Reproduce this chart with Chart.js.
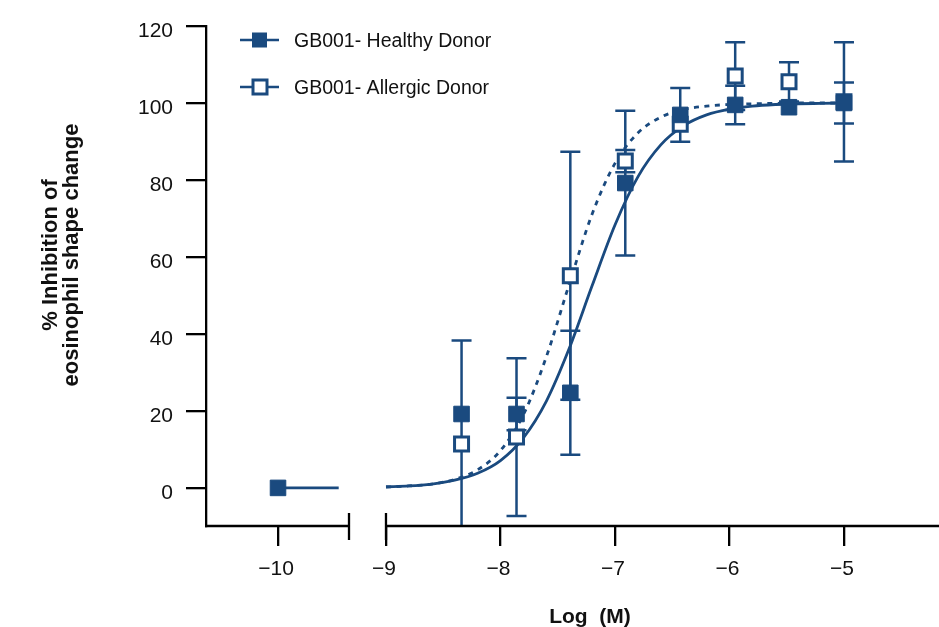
<!DOCTYPE html>
<html>
<head>
<meta charset="utf-8">
<script src="https://cdn.jsdelivr.net/npm/chart.js@4.4.1/dist/chart.umd.min.js"></script>
<style>
  html, body { margin: 0; padding: 0; background: #fff; }
  #chart { display: block; }
</style>
</head>
<body>
<canvas id="chart" width="939" height="627"></canvas>
<script>
// measured points (log M) and % inhibition, mean +/- error
const healthyX = [-10, -8.34, -7.86, -7.39, -6.91, -6.43, -5.95, -5.48, -5.0];
const healthyMean = [0, 19.2, 19.2, 24.7, 79.2, 96.9, 99.5, 98.9, 100.0];
const healthyErr = [0, 0, 4.2, 16.1, 18.8, 7.0, 5.0, 0, 5.3];

const allergicX = [-8.34, -7.86, -7.39, -6.91, -6.43, -5.95, -5.48, -5.0];
const allergicMean = [11.4, 13.2, 55.1, 84.9, 94.5, 107.0, 105.5, 100.3];
const allergicErr = [26.9, 20.5, 32.2, 2.9, 0, 8.8, 5.1, 15.5];

// fitted curves
const fitX = [-9.0, -8.8, -8.6, -8.4, -8.2, -8.0, -7.8, -7.6, -7.4, -7.2, -7.0,
              -6.8, -6.6, -6.4, -6.2, -6.0, -5.8, -5.6, -5.4, -5.2, -5.0];
const healthyFit = [0.3, 0.5, 1.0, 2.0, 3.8, 7.1, 13.0, 22.5, 36.2, 52.5, 68.3,
                    80.8, 89.1, 94.1, 96.9, 98.4, 99.2, 99.6, 99.8, 99.9, 100.0];
const allergicFit = [0.2, 0.5, 1.0, 2.2, 4.7, 9.7, 19.0, 34.0, 52.9, 71.1, 84.3,
                     92.2, 96.3, 98.3, 99.2, 99.6, 99.8, 99.9, 100.0, 100.0, 100.0];
// healthy curve left of the axis break
const baseX = [-10, -9.47];
const baseY = [0, 0];

const xTicks = [-10, -9, -8, -7, -6, -5];
const yTicks = [0, 20, 40, 60, 80, 100, 120];

const NAVY = "#1a4a7f";
const INK = "#111";
const FONT = "'Liberation Sans', Arial, Helvetica, sans-serif";

// axis break between these two values; the part left of it is slid right a bit
const BREAK_FROM = -9.38;
const BREAK_TO = -9;
const LEFT_SHIFT = 0.057;

class BrokenLinearScale extends Chart.LinearScale {
  getPixelForValue(value) {
    const v = value < BREAK_TO - 0.1 ? value + LEFT_SHIFT : value;
    return super.getPixelForValue(v);
  }
}
BrokenLinearScale.id = "brokenLinear";
BrokenLinearScale.defaults = Chart.LinearScale.defaults;
Chart.register(BrokenLinearScale);

const toPoints = (xs, ys) => xs.map((x, i) => ({ x, y: ys[i] }));

// error bars under the markers
const errorBars = {
  id: "errorBars",
  beforeDatasetsDraw(chart) {
    const { ctx, chartArea, scales } = chart;
    const groups = [
      [allergicX, allergicMean, allergicErr],
      [healthyX, healthyMean, healthyErr],
    ];
    ctx.save();
    ctx.beginPath();
    ctx.rect(chartArea.left, chartArea.top, chartArea.right - chartArea.left, chartArea.bottom - chartArea.top);
    ctx.clip();
    ctx.strokeStyle = NAVY;
    ctx.lineWidth = 2.5;
    groups.forEach(([xs, means, errs]) => {
      xs.forEach((x, i) => {
        if (!errs[i]) return;
        const px = scales.x.getPixelForValue(x);
        const top = scales.y.getPixelForValue(means[i] + errs[i]);
        const bot = scales.y.getPixelForValue(means[i] - errs[i]);
        ctx.beginPath();
        ctx.moveTo(px, top);
        ctx.lineTo(px, bot);
        ctx.moveTo(px - 10, top);
        ctx.lineTo(px + 10, top);
        ctx.moveTo(px - 10, bot);
        ctx.lineTo(px + 10, bot);
        ctx.stroke();
      });
    });
    ctx.restore();
  },
};

// broken x axis line, legend and axis titles
const decorations = {
  id: "decorations",
  afterDraw(chart) {
    const { ctx, chartArea, scales } = chart;
    const yAxis = chartArea.bottom;
    const bx1 = scales.x.getPixelForValue(BREAK_FROM);
    const bx2 = scales.x.getPixelForValue(BREAK_TO);
    ctx.save();
    ctx.strokeStyle = "#000";
    ctx.lineWidth = 2.3;
    ctx.beginPath();
    ctx.moveTo(chartArea.left - 1, yAxis);
    ctx.lineTo(bx1, yAxis);
    ctx.moveTo(bx2, yAxis);
    ctx.lineTo(chartArea.right, yAxis);
    ctx.moveTo(bx1, yAxis - 13);
    ctx.lineTo(bx1, yAxis + 14);
    ctx.moveTo(bx2, yAxis - 13);
    ctx.lineTo(bx2, yAxis + 14);
    ctx.stroke();

    // legend
    const items = [
      { text: "GB001- Healthy Donor", y: 40, filled: true },
      { text: "GB001- Allergic Donor", y: 87, filled: false },
    ];
    items.forEach((it) => {
      ctx.strokeStyle = NAVY;
      ctx.lineWidth = 2.6;
      ctx.beginPath();
      ctx.moveTo(240, it.y);
      ctx.lineTo(279, it.y);
      ctx.stroke();
      if (it.filled) {
        ctx.fillStyle = NAVY;
        ctx.fillRect(252, it.y - 7.5, 15, 15);
      } else {
        ctx.fillStyle = "#fff";
        ctx.lineWidth = 3;
        ctx.fillRect(253, it.y - 7, 14, 14);
        ctx.strokeRect(253, it.y - 7, 14, 14);
      }
      ctx.fillStyle = INK;
      ctx.font = "19.5px " + FONT;
      ctx.textAlign = "left";
      ctx.textBaseline = "alphabetic";
      ctx.fillText(it.text, 294, it.y + 7);
    });

    // axis titles
    ctx.fillStyle = INK;
    ctx.font = "bold 21px " + FONT;
    ctx.textAlign = "center";
    ctx.fillText("Log  (M)", 590, 623);

    ctx.translate(0, 255);
    ctx.rotate(-Math.PI / 2);
    ctx.font = "bold 22px " + FONT;
    ctx.fillText("% Inhibition of", 0, 57);
    ctx.fillText("eosinophil shape change", 0, 78);
    ctx.restore();
  },
};

const axisGrid = {
  drawOnChartArea: false,
  drawTicks: true,
  tickLength: 20,
  color: "#000",
  lineWidth: 2.3,
};

new Chart(document.getElementById("chart"), {
  type: "line",
  data: {
    datasets: [
      {
        label: "GB001- Healthy Donor",
        data: toPoints(healthyX, healthyMean),
        showLine: false,
        pointStyle: "rect",
        pointRadius: 11,
        pointBackgroundColor: NAVY,
        pointBorderColor: NAVY,
        pointBorderWidth: 1,
        order: 0,
      },
      {
        label: "GB001- Allergic Donor",
        data: toPoints(allergicX, allergicMean),
        showLine: false,
        pointStyle: "rect",
        pointRadius: 9.9,
        pointBackgroundColor: "#fff",
        pointBorderColor: NAVY,
        pointBorderWidth: 3,
        order: 1,
      },
      {
        label: "Healthy fit",
        data: toPoints(fitX, healthyFit),
        borderColor: NAVY,
        borderWidth: 2.8,
        pointRadius: 0,
        cubicInterpolationMode: "monotone",
        order: 3,
      },
      {
        label: "Allergic fit",
        data: toPoints(fitX, allergicFit),
        borderColor: NAVY,
        borderWidth: 2.8,
        borderDash: [5, 5.5],
        pointRadius: 0,
        cubicInterpolationMode: "monotone",
        order: 2,
      },
      {
        label: "Healthy baseline",
        data: toPoints(baseX, baseY),
        borderColor: NAVY,
        borderWidth: 2.8,
        pointRadius: 0,
        order: 3,
      },
    ],
  },
  options: {
    responsive: false,
    animation: false,
    devicePixelRatio: 1,
    layout: { autoPadding: false, padding: { top: 26, right: 0, bottom: 0, left: 0 } },
    plugins: { legend: { display: false }, tooltip: { enabled: false } },
    scales: {
      x: {
        type: "brokenLinear",
        min: -10.572,
        max: -4.17,
        afterFit: (s) => {
          s.height = 101;
          s.paddingLeft = 0;
          s.paddingRight = 0;
        },
        afterBuildTicks: (s) => { s.ticks = xTicks.map((v) => ({ value: v })); },
        border: { display: false },
        grid: axisGrid,
        ticks: {
          padding: 11,
          labelOffset: -2,
          maxRotation: 0,
          autoSkip: false,
          color: INK,
          font: { family: FONT, size: 21 },
          callback: (v) => (v < 0 ? "\u2212" + Math.abs(v) : String(v)),
        },
      },
      y: {
        min: -9.9,
        max: 120,
        afterFit: (s) => {
          s.width = 206;
          s.paddingTop = 0;
          s.paddingBottom = 0;
        },
        afterBuildTicks: (s) => { s.ticks = yTicks.map((v) => ({ value: v })); },
        border: { display: true, color: "#000", width: 2.3 },
        grid: axisGrid,
        ticks: {
          padding: 13,
          labelOffset: 5,
          color: INK,
          font: { family: FONT, size: 21 },
        },
      },
    },
  },
  plugins: [errorBars, decorations],
});
</script>
</body>
</html>
